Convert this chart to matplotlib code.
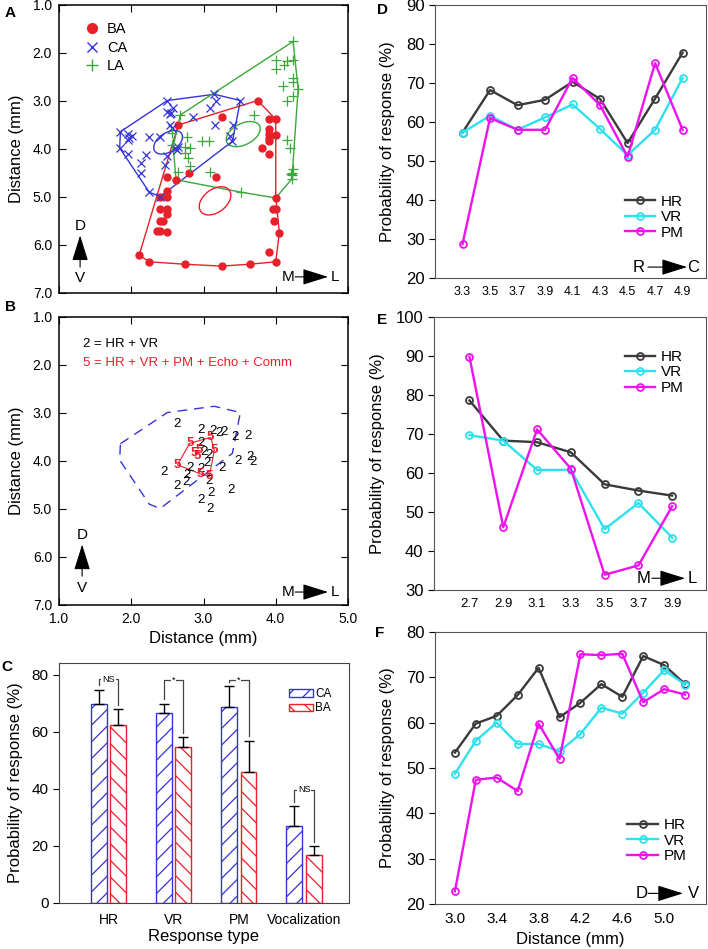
import numpy as np
import matplotlib
matplotlib.use('Agg')
import matplotlib.pyplot as plt
from matplotlib.patches import Ellipse, Polygon, Patch
from matplotlib.transforms import ScaledTranslation
from matplotlib.lines import Line2D

plt.rcParams['font.family'] = ['Liberation Sans', 'DejaVu Sans']
plt.rcParams['hatch.linewidth'] = 0.9

# ---------------- Panel A data (mm) ----------------
ba_x = [3.75, 3.25, 2.65, 3.90, 4.00, 3.90, 3.90, 3.90, 3.91, 4.00, 3.81, 3.90, 3.17, 2.80,
        2.62, 2.49, 2.49, 2.49, 2.40, 2.40, 2.50, 2.50, 2.40, 2.44, 2.35, 2.40, 2.50, 4.00,
        3.96, 4.01, 3.98, 4.05, 3.91, 4.00, 3.64, 3.25, 2.74, 2.25, 2.11]
ba_y = [2.99, 3.34, 3.50, 3.38, 3.38, 3.59, 3.68, 3.77, 3.84, 3.70, 3.98, 4.10, 4.59, 4.50,
        4.64, 4.59, 4.88, 4.99, 5.00, 5.24, 5.24, 5.35, 5.49, 5.49, 5.70, 5.70, 5.73, 5.02,
        5.24, 5.24, 5.49, 5.74, 6.15, 6.35, 6.40, 6.44, 6.40, 6.35, 6.21]
ca_x = [2.50, 3.15, 3.17, 3.09, 2.49, 2.55, 2.53, 2.58, 2.85, 2.54, 2.56, 3.16, 1.96, 2.01,
        1.95, 1.97, 1.85, 2.25, 2.40, 1.84, 1.95, 2.20, 2.14, 2.14, 2.47, 2.61, 2.65, 2.63,
        2.25, 2.40, 3.51, 3.41, 3.36, 3.40, 2.49]
ca_y = [2.99, 2.86, 2.99, 3.14, 3.22, 3.25, 3.27, 3.14, 3.34, 3.50, 3.57, 3.50, 3.69, 3.72,
        3.81, 3.77, 3.64, 3.74, 3.74, 3.98, 4.11, 4.13, 4.29, 4.50, 4.33, 3.98, 3.95, 4.02,
        4.90, 4.99, 2.99, 3.50, 3.73, 3.84, 4.14]
la_x = [4.24, 4.00, 4.11, 4.15, 4.24, 4.00, 4.24, 4.24, 4.31, 4.10, 4.15, 4.24, 3.70, 4.15,
        4.20, 4.24, 4.21, 4.22, 4.23, 4.22, 3.52, 2.68, 2.77, 2.56, 2.74, 2.81, 2.74, 2.78,
        2.98, 3.08, 2.81, 2.65, 3.09, 2.56]
la_y = [1.76, 2.14, 2.25, 2.16, 2.14, 2.34, 2.53, 2.60, 2.75, 2.69, 2.99, 2.89, 3.29, 3.81,
        3.98, 4.42, 4.52, 4.55, 4.49, 4.63, 4.90, 3.29, 3.74, 3.67, 3.95, 3.98, 4.09, 4.19,
        3.83, 3.84, 4.36, 4.48, 4.48, 3.91]

ca_hull_x = [1.85, 2.50, 3.15, 3.51, 3.40, 2.40, 2.25, 1.84]
ca_hull_y = [3.64, 2.99, 2.86, 2.99, 3.84, 4.99, 4.90, 3.98]
la_hull_x = [4.24, 4.31, 4.23, 4.22, 4.00, 3.52, 2.62, 2.58, 2.68]
la_hull_y = [1.76, 2.75, 4.49, 4.63, 5.02, 4.90, 4.64, 3.95, 3.29]
ba_hull_x = [3.75, 4.00, 4.00, 4.05, 4.00, 3.64, 3.25, 2.74, 2.25, 2.11, 2.65]
ba_hull_y = [2.99, 3.38, 5.02, 5.74, 6.35, 6.40, 6.44, 6.40, 6.35, 6.21, 3.50]

# ellipse centres (mm), semi-axes (px) and tilt (deg)
ell_groups = ['CA', 'LA', 'BA']
ell_cx = [2.51, 3.55, 3.16]
ell_cy = [3.86, 3.69, 5.08]
ell_a = [16.0, 18.3, 17.8]
ell_b = [9.5, 10.6, 11.5]
ell_ang = [33, 27, 37]

# ---------------- Panel B data ----------------
two_x = [2.64, 2.96, 3.13, 3.21, 3.29, 3.44, 3.61, 2.96, 3.01, 3.07, 3.05, 2.96, 2.81, 3.25,
         3.48, 3.64, 3.68, 2.45, 2.76, 2.64, 3.07, 2.96, 3.10, 3.38, 3.09, 2.77]
two_y = [3.22, 3.35, 3.37, 3.42, 3.39, 3.51, 3.48, 3.62, 3.82, 3.87, 4.05, 4.17, 4.15, 4.15,
         4.01, 3.91, 4.03, 4.22, 4.43, 4.53, 4.41, 4.81, 4.67, 4.60, 5.01, 4.29]
five_x = [3.10, 2.81, 3.15, 2.87, 2.94, 2.91, 2.64, 2.96, 3.08]
five_y = [3.51, 3.63, 3.78, 3.84, 3.77, 3.89, 4.08, 4.27, 4.32]
five_hull_x = [2.81, 3.10, 3.15, 3.08, 2.96, 2.64]
five_hull_y = [3.63, 3.51, 3.78, 4.32, 4.27, 4.08]

# ---------------- Panel C data ----------------
resp_types = ['HR', 'VR', 'PM', 'Vocalization']
ca_mean = [69.7, 66.6, 68.9, 27.0]
ca_err = [5.2, 3.3, 7.3, 7.1]
ba_mean = [62.3, 54.7, 45.8, 17.0]
ba_err = [5.8, 3.4, 11.2, 3.0]
sig_labels = ['NS', '*', '*', 'NS']
sig_top = [78.5, 78.2, 78.2, 39.8]

# ---------------- Panels D-F data ----------------
d_x = [3.3, 3.5, 3.7, 3.9, 4.1, 4.3, 4.5, 4.7, 4.9]
d_hr = [57.3, 68.2, 64.3, 65.7, 70.3, 65.9, 54.6, 66.0, 77.8]
d_vr = [57.3, 61.6, 58.0, 61.2, 64.5, 58.2, 51.5, 58.0, 71.3]
d_pm = [28.7, 61.0, 58.0, 58.0, 71.3, 64.3, 51.1, 75.1, 58.0]

e_x = [2.7, 2.9, 3.1, 3.3, 3.5, 3.7, 3.9]
e_hr = [78.6, 68.3, 67.9, 65.3, 57.1, 55.5, 54.2]
e_vr = [69.7, 68.3, 60.8, 60.8, 45.6, 52.3, 43.4]
e_pm = [89.8, 46.1, 71.2, 61.1, 33.9, 36.3, 51.5]

f_x = [3.0, 3.2, 3.4, 3.6, 3.8, 4.0, 4.2, 4.4, 4.6, 4.8, 5.0, 5.2]
f_hr = [53.4, 59.8, 61.5, 66.1, 72.1, 61.2, 64.4, 68.5, 65.7, 74.7, 72.7, 68.5]
f_vr = [48.7, 56.0, 60.0, 55.3, 55.3, 53.7, 57.5, 63.3, 62.0, 66.6, 71.6, 68.4]
f_pm = [22.8, 47.4, 47.9, 44.9, 59.8, 52.0, 75.1, 74.9, 75.2, 64.5, 67.4, 66.2]

RED = '#e8202a'
BLUE = '#3434d8'
GREEN = '#3aa83a'
C_HR = '#3a3a3a'
C_VR = '#2fe0ee'
C_PM = '#ee12ee'

W, H = 708, 949
fig = plt.figure(figsize=(W / 100, H / 100), dpi=100)


def frac(l, t, r, b):
    return [l / W, 1 - b / H, (r - l) / W, (b - t) / H]


axA = fig.add_axes(frac(59, 5, 348, 293))
axB = fig.add_axes(frac(59, 317, 348, 605))
axC = fig.add_axes(frac(59, 663, 349, 903))
axD = fig.add_axes(frac(435, 5, 706, 278))
axE = fig.add_axes(frac(434, 317, 706, 590))
axF = fig.add_axes(frac(435, 632, 706, 904))

AST = '-|>,head_length=1.6,head_width=0.5'


def h_arrow(ax, s, e, xs, x0, x1, xe, y, fs=11):
    ax.text(xs, y, s, transform=ax.transAxes, ha='center', va='center', fontsize=fs)
    ax.text(xe, y, e, transform=ax.transAxes, ha='center', va='center', fontsize=fs)
    ax.annotate('', xy=(x1, y), xytext=(x0, y), xycoords='axes fraction',
                arrowprops=dict(arrowstyle=AST, mutation_scale=10, lw=0.8, color='black',
                                shrinkA=0, shrinkB=0))


def v_arrow(ax, x, yv, y0, y1, yd, fs=11):
    ax.text(x, yd, 'D', transform=ax.transAxes, ha='center', va='center', fontsize=fs)
    ax.text(x, yv, 'V', transform=ax.transAxes, ha='center', va='center', fontsize=fs)
    ax.annotate('', xy=(x, y1), xytext=(x, y0), xycoords='axes fraction',
                arrowprops=dict(arrowstyle=AST, mutation_scale=10, lw=0.8, color='black',
                                shrinkA=0, shrinkB=0))


def map_axes(ax, xlabels):
    ax.set_xlim(1.0, 5.0)
    ax.set_ylim(7.0, 1.0)
    ax.set_yticks(np.arange(1, 8))
    ax.set_yticklabels(['%.1f' % v for v in np.arange(1, 8)])
    ax.set_xticks(np.arange(1, 6))
    if xlabels:
        ax.set_xticklabels(['%.1f' % v for v in np.arange(1, 6)])
    else:
        ax.set_xticklabels([])
    ax.tick_params(direction='in', top=True, right=True, length=5, width=0.8,
                   labelsize=10, pad=5)
    ax.set_ylabel('Distance (mm)', fontsize=12, labelpad=6)
    for s in ax.spines.values():
        s.set_linewidth(1.1)


# ---------------- Panel A ----------------
map_axes(axA, False)
axA.add_patch(Polygon(np.column_stack([ba_hull_x, ba_hull_y]), closed=True, fill=False,
                      edgecolor=RED, lw=1.0))
axA.add_patch(Polygon(np.column_stack([ca_hull_x, ca_hull_y]), closed=True, fill=False,
                      edgecolor=BLUE, lw=1.0))
axA.add_patch(Polygon(np.column_stack([la_hull_x, la_hull_y]), closed=True, fill=False,
                      edgecolor=GREEN, lw=1.0))
ell_cols = {'CA': BLUE, 'LA': GREEN, 'BA': RED}
for g, cx, cy, a, b, ang in zip(ell_groups, ell_cx, ell_cy, ell_a, ell_b, ell_ang):
    tr = fig.dpi_scale_trans + ScaledTranslation(cx, cy, axA.transData)
    axA.add_patch(Ellipse((0, 0), 2 * a / 100, 2 * b / 100, angle=ang, transform=tr,
                          fill=False, edgecolor=ell_cols[g], lw=1.0))
axA.plot(ba_x, ba_y, 'o', color=RED, ms=5, mec=RED, ls='none')
axA.plot(ca_x, ca_y, 'x', color=BLUE, ms=5.5, mew=0.9, ls='none')
axA.plot(la_x, la_y, '+', color=GREEN, ms=6.5, mew=0.9, ls='none')
hA = [Line2D([], [], marker='o', color=RED, ls='none', ms=7),
      Line2D([], [], marker='x', color=BLUE, ls='none', ms=7, mew=1),
      Line2D([], [], marker='+', color=GREEN, ls='none', ms=8, mew=1)]
axA.legend(hA, ['BA', 'CA', 'LA'], loc='upper left', bbox_to_anchor=(0.04, 0.985),
           frameon=False, fontsize=10.5, handletextpad=0.4, labelspacing=0.3,
           handlelength=1.2)
v_arrow(axA, 0.073, 0.052, 0.09, 0.20, 0.233)
h_arrow(axA, 'M', 'L', 0.792, 0.817, 0.931, 0.955, 0.056)
fig.text(10 / W, 1 - 13 / H, 'A', fontsize=11, fontweight='bold', ha='center', va='center')

# ---------------- Panel B ----------------
map_axes(axB, True)
axB.set_xlabel('Distance (mm)', fontsize=12, labelpad=4)
axB.add_patch(Polygon(np.column_stack([ca_hull_x, ca_hull_y]), closed=True, fill=False,
                      edgecolor=BLUE, lw=1.0, ls=(0, (7, 5))))
axB.add_patch(Polygon(np.column_stack([five_hull_x, five_hull_y]), closed=True, fill=False,
                      edgecolor=RED, lw=0.8))
for x, y in zip(two_x, two_y):
    axB.text(x, y, '2', ha='center', va='center', fontsize=9.5, color='black')
for x, y in zip(five_x, five_y):
    axB.text(x, y, '5', ha='center', va='center', fontsize=9.5, color=RED,
             fontweight='bold')
axB.text(0.083, 0.906, '2 = HR + VR', transform=axB.transAxes, fontsize=9.5,
         ha='left', va='center')
axB.text(0.083, 0.84, '5 = HR + VR + PM + Echo + Comm', transform=axB.transAxes,
         fontsize=9.5, ha='left', va='center', color=RED)
v_arrow(axB, 0.08, 0.059, 0.10, 0.21, 0.243)
h_arrow(axB, 'M', 'L', 0.792, 0.817, 0.931, 0.955, 0.045)
fig.text(10 / W, 1 - 307 / H, 'B', fontsize=11, fontweight='bold', ha='center', va='center')

# ---------------- Panel C ----------------
xg = np.arange(len(resp_types))
off, bw = 0.148, 0.245
axC.bar(xg - off, ca_mean, width=bw, facecolor='white', edgecolor=BLUE, hatch='//',
        lw=1.0, zorder=2)
axC.bar(xg + off, ba_mean, width=bw, facecolor='white', edgecolor=RED, hatch='\\\\',
        lw=1.0, zorder=2)
axC.errorbar(xg - off, ca_mean, yerr=[np.zeros(4), ca_err], fmt='none', ecolor='black',
             elinewidth=1.0, capsize=3.5, capthick=1.0, zorder=3)
axC.errorbar(xg + off, ba_mean, yerr=[np.zeros(4), ba_err], fmt='none', ecolor='black',
             elinewidth=1.0, capsize=3.5, capthick=1.0, zorder=3)
for i in range(len(resp_types)):
    xl, xr = xg[i] - off, xg[i] + off
    top = sig_top[i]
    yl = ca_mean[i] + ca_err[i] + 1.5
    yr = ba_mean[i] + ba_err[i] + 1.5
    axC.plot([xl, xl, xr, xr], [yl, top, top, yr], color='#444444', lw=0.9, zorder=3)
    axC.text(xg[i], top, sig_labels[i], ha='center', va='center', fontsize=6.5,
             bbox=dict(facecolor='white', edgecolor='none', pad=0.6), zorder=4)
axC.set_xlim(-0.76, 3.69)
axC.set_ylim(0, 84.2)
axC.set_yticks([0, 20, 40, 60, 80])
axC.set_xticks(xg)
axC.set_xticklabels(resp_types)
axC.tick_params(axis='y', direction='out', length=4, labelsize=11)
axC.tick_params(axis='x', length=0, labelsize=10, pad=7)
axC.set_ylabel('Probability of response (%)', fontsize=12, labelpad=6)
axC.set_xlabel('Response type', fontsize=12, labelpad=2)
for s in axC.spines.values():
    s.set_color('#444444')
hC = [Patch(facecolor='white', edgecolor=BLUE, hatch='//', lw=1.0),
      Patch(facecolor='white', edgecolor=RED, hatch='\\\\', lw=1.0)]
axC.legend(hC, ['CA', 'BA'], loc='upper left', bbox_to_anchor=(0.765, 0.93), frameon=False,
           fontsize=8.5, handlelength=2.0, handleheight=0.6, labelspacing=0.2,
           handletextpad=0.2, borderpad=0.2)
fig.text(7 / W, 1 - 667 / H, 'C', fontsize=11, fontweight='bold', ha='center', va='center')


# ---------------- Panels D-F ----------------
def line_panel(ax, x, hr, vr, pm, xlim, ylim, yticks, xticks, xfs):
    for y, c, lab in [(hr, C_HR, 'HR'), (vr, C_VR, 'VR'), (pm, C_PM, 'PM')]:
        ax.plot(x, y, '-o', color=c, lw=1.7, ms=5, mfc='none', mew=1.3, label=lab)
    ax.set_xlim(*xlim)
    ax.set_ylim(*ylim)
    ax.set_yticks(yticks)
    ax.set_xticks(xticks)
    ax.set_xticklabels(['%.1f' % v for v in xticks])
    ax.tick_params(axis='y', direction='out', length=4, labelsize=12)
    ax.tick_params(axis='x', length=0, labelsize=xfs, pad=6)
    ax.set_ylabel('Probability of response (%)', fontsize=12, labelpad=8)
    for s in ax.spines.values():
        s.set_color('#555555')


line_panel(axD, d_x, d_hr, d_vr, d_pm, (3.1, 5.07), (20, 90), np.arange(20, 91, 10), d_x, 9)
axD.legend(loc='lower right', bbox_to_anchor=(0.97, 0.09), frameon=False, fontsize=11,
           handlelength=2.0, labelspacing=0.1, handletextpad=0.4)
h_arrow(axD, 'R', 'C', 0.753, 0.786, 0.93, 0.952, 0.04, fs=12)
fig.text(382 / W, 1 - 10 / H, 'D', fontsize=11, fontweight='bold', ha='center', va='center')

line_panel(axE, e_x, e_hr, e_vr, e_pm, (2.49, 4.1), (30, 100), np.arange(30, 101, 10), e_x,
           9.5)
axE.legend(loc='upper right', bbox_to_anchor=(0.97, 0.93), frameon=False, fontsize=11,
           handlelength=2.0, labelspacing=0.1, handletextpad=0.4)
h_arrow(axE, 'M', 'L', 0.772, 0.801, 0.923, 0.949, 0.043, fs=12)
fig.text(382 / W, 1 - 320 / H, 'E', fontsize=11, fontweight='bold', ha='center', va='center')

line_panel(axF, f_x, f_hr, f_vr, f_pm, (2.81, 5.4), (20, 80), np.arange(20, 81, 10),
           [3.0, 3.4, 3.8, 4.2, 4.6, 5.0], 11)
axF.set_xlabel('Distance (mm)', fontsize=12, labelpad=4)
axF.legend(loc='lower right', bbox_to_anchor=(0.98, 0.10), frameon=False, fontsize=11,
           handlelength=2.0, labelspacing=0.1, handletextpad=0.4)
h_arrow(axF, 'D', 'V', 0.764, 0.786, 0.915, 0.952, 0.039, fs=12)
fig.text(380 / W, 1 - 633 / H, 'F', fontsize=11, fontweight='bold', ha='center', va='center')

fig.savefig('out.png', dpi=100)
